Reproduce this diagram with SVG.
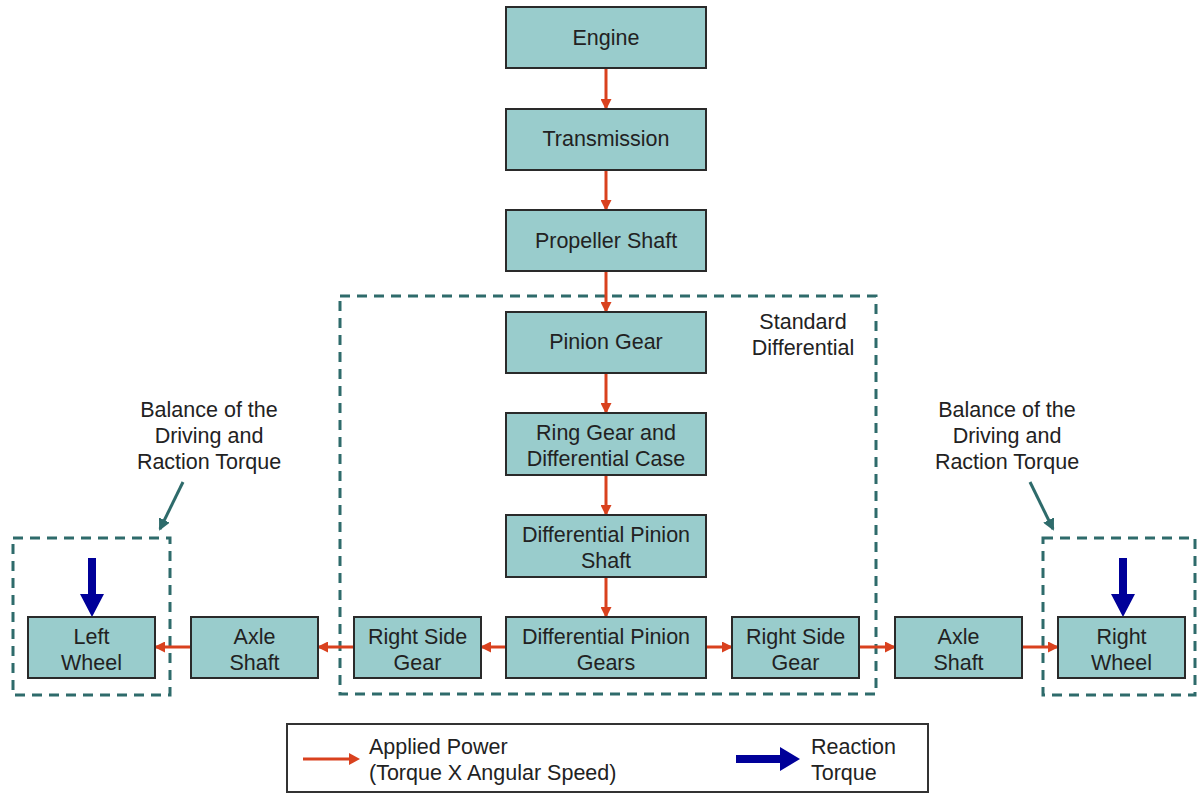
<svg xmlns="http://www.w3.org/2000/svg" width="1197" height="793" viewBox="0 0 1197 793">
<style>
.box{fill:#99CCCC;stroke:#2a2a2a;stroke-width:2}
.t{font-family:"Liberation Sans",Arial,sans-serif;font-size:21.5px;fill:#222;text-anchor:middle}
.tl{font-family:"Liberation Sans",Arial,sans-serif;font-size:21.5px;fill:#222}
.dash{fill:none;stroke:#2E6B6B;stroke-width:3;stroke-dasharray:10,7}
.pw{stroke:#D9411E;stroke-width:3;fill:none;marker-end:url(#ra)}
.note{stroke:#2E6B6B;stroke-width:3;fill:none;marker-end:url(#ta)}
</style>
<defs>
<marker id="ra" markerWidth="11" markerHeight="11" refX="9" refY="5.5" orient="auto" markerUnits="userSpaceOnUse"><path d="M0,0 L11,5.5 L0,11 Z" fill="#D9411E"/></marker>
<marker id="ta" markerWidth="12" markerHeight="12" refX="10" refY="6" orient="auto" markerUnits="userSpaceOnUse"><path d="M0,0 L12,6 L0,12 Z" fill="#2E6B6B"/></marker>
</defs>
<rect width="1197" height="793" fill="#fff"/>
<g id="regions">
<rect class="dash" x="340" y="296" width="536" height="398"/>
<rect class="dash" x="13" y="538" width="157" height="157"/>
<rect class="dash" x="1043" y="538" width="152" height="157"/>
</g>
<g id="connectors">
<line class="pw" x1="606" y1="69" x2="606" y2="108"/>
<line class="pw" x1="606" y1="171" x2="606" y2="209"/>
<line class="pw" x1="606" y1="272" x2="606" y2="311"/>
<line class="pw" x1="606" y1="374" x2="606" y2="412"/>
<line class="pw" x1="606" y1="476" x2="606" y2="514"/>
<line class="pw" x1="606" y1="578" x2="606" y2="616"/>
<line class="pw" x1="505" y1="647" x2="482" y2="647"/>
<line class="pw" x1="353" y1="647" x2="319" y2="647"/>
<line class="pw" x1="190" y1="647" x2="156" y2="647"/>
<line class="pw" x1="707" y1="647" x2="731" y2="647"/>
<line class="pw" x1="860" y1="647" x2="894" y2="647"/>
<line class="pw" x1="1023" y1="647" x2="1057" y2="647"/>
<line class="note" x1="183" y1="482" x2="160" y2="529"/>
<line class="note" x1="1030" y1="482" x2="1053" y2="529"/>
<path d="M88,558 H96 V594 H104 L92,617 L80,594 H88 Z" fill="#000099"/>
<path d="M1119,558 H1127 V594 H1135 L1123,617 L1111,594 H1119 Z" fill="#000099"/>
</g>
<g id="engine"><rect class="box" x="506" y="7" width="200" height="61"/><text class="t" x="606" y="45">Engine</text></g>
<g id="transmission"><rect class="box" x="506" y="109" width="200" height="61"/><text class="t" x="606" y="146">Transmission</text></g>
<g id="propeller"><rect class="box" x="506" y="210" width="200" height="61"/><text class="t" x="606" y="248">Propeller Shaft</text></g>
<g id="pinion"><rect class="box" x="506" y="312" width="200" height="61"/><text class="t" x="606" y="349">Pinion Gear</text></g>
<g id="ring"><rect class="box" x="506" y="413" width="200" height="62"/><text class="t" x="606" y="440">Ring Gear and</text><text class="t" x="606" y="466">Differential Case</text></g>
<g id="dps"><rect class="box" x="506" y="515" width="200" height="62"/><text class="t" x="606" y="542">Differential Pinion</text><text class="t" x="606" y="568">Shaft</text></g>
<g id="dpg"><rect class="box" x="506" y="617" width="200" height="61"/><text class="t" x="606" y="644">Differential Pinion</text><text class="t" x="606" y="670">Gears</text></g>
<g id="rsg-left"><rect class="box" x="354" y="617" width="127" height="61"/><text class="t" x="417.5" y="644">Right Side</text><text class="t" x="417.5" y="670">Gear</text></g>
<g id="axle-left"><rect class="box" x="191" y="617" width="127" height="61"/><text class="t" x="254.5" y="644">Axle</text><text class="t" x="254.5" y="670">Shaft</text></g>
<g id="left-wheel"><rect class="box" x="28" y="617" width="127" height="61"/><text class="t" x="91.5" y="644">Left</text><text class="t" x="91.5" y="670">Wheel</text></g>
<g id="rsg-right"><rect class="box" x="732" y="617" width="127" height="61"/><text class="t" x="795.5" y="644">Right Side</text><text class="t" x="795.5" y="670">Gear</text></g>
<g id="axle-right"><rect class="box" x="895" y="617" width="127" height="61"/><text class="t" x="958.5" y="644">Axle</text><text class="t" x="958.5" y="670">Shaft</text></g>
<g id="right-wheel"><rect class="box" x="1058" y="617" width="127" height="61"/><text class="t" x="1121.5" y="644">Right</text><text class="t" x="1121.5" y="670">Wheel</text></g>
<g id="labels">
<text class="t" x="803" y="329">Standard</text>
<text class="t" x="803" y="355">Differential</text>
<text class="t" x="209" y="417">Balance of the</text>
<text class="t" x="209" y="443">Driving and</text>
<text class="t" x="209" y="469">Raction Torque</text>
<text class="t" x="1007" y="417">Balance of the</text>
<text class="t" x="1007" y="443">Driving and</text>
<text class="t" x="1007" y="469">Raction Torque</text>
</g>
<g id="legend">
<rect x="287" y="724" width="641" height="68" fill="#fff" stroke="#333" stroke-width="2"/>
<line x1="303" y1="759" x2="350" y2="759" stroke="#D9411E" stroke-width="3"/>
<path d="M349,753 L360,759 L349,765 Z" fill="#D9411E"/>
<text class="tl" x="369" y="754">Applied Power</text>
<text class="tl" x="369" y="780">(Torque X Angular Speed)</text>
<path d="M736,755 H780 V747 L800,759 L780,771 V763 H736 Z" fill="#000099"/>
<text class="tl" x="811" y="754">Reaction</text>
<text class="tl" x="811" y="780">Torque</text>
</g>
</svg>
